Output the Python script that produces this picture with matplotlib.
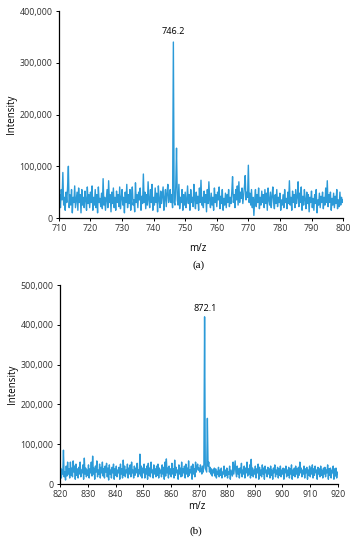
import numpy as np
import matplotlib
matplotlib.use("Agg")
import matplotlib.pyplot as plt
from matplotlib.ticker import FuncFormatter

# spectrum (a): m/z 710-800, step 0.25, intensity in thousands
mz_a_start, mz_a_end = 710, 800
int_a = [
    30, 45, 20, 55, 35, 88, 25, 40, 15, 50, 30, 60, 100, 20, 45, 25, 55, 10, 40, 30,
    62, 20, 35, 50, 15, 58, 30, 45, 10, 55, 25, 40, 20, 52, 35, 15, 60, 28, 45, 20,
    50, 30, 62, 15, 40, 25, 55, 20, 45, 10, 60, 30, 38, 22, 48, 18, 76, 25, 40, 15,
    35, 55, 20, 72, 30, 45, 12, 50, 28, 58, 20, 40, 15, 52, 30, 45, 22, 60, 18, 38,
    55, 25, 40, 10, 50, 30, 65, 20, 45, 28, 55, 15, 40, 60, 25, 35, 12, 68, 30, 45,
    20, 50, 35, 58, 15, 42, 28, 85, 30, 50, 18, 45, 25, 70, 35, 20, 55, 30, 65, 15,
    40, 25, 58, 30, 48, 12, 62, 35, 20, 52, 28, 45, 60, 15, 38, 55, 22, 48, 65, 30,
    40, 55, 30, 45, 20, 340, 30, 25, 60, 135, 35, 25, 65, 18, 40, 30, 55, 15, 45, 25,
    50, 20, 35, 62, 28, 45, 15, 55, 30, 40, 22, 65, 35, 18, 50, 28, 42, 15, 58, 30,
    73, 25, 40, 20, 52, 30, 45, 12, 55, 28, 70, 35, 20, 48, 25, 40, 15, 58, 30, 45,
    22, 50, 35, 60, 18, 42, 28, 55, 15, 38, 25, 48, 20, 45, 30, 55, 22, 40, 28, 50,
    80, 30, 45, 20, 55, 35, 62, 25, 70, 30, 50, 38, 58, 28, 45, 60, 82, 35, 50, 40,
    102, 30, 48, 25, 55, 20, 40, 5, 35, 55, 22, 45, 30, 58, 18, 40, 25, 52, 30, 45,
    20, 55, 28, 48, 15, 58, 35, 25, 50, 20, 42, 60, 30, 18, 45, 28, 55, 22, 40, 30,
    48, 15, 35, 25, 45, 20, 55, 30, 38, 18, 50, 28, 72, 25, 40, 15, 52, 30, 45, 20,
    55, 28, 40, 70, 22, 48, 30, 60, 15, 42, 25, 55, 35, 18, 50, 28, 45, 12, 40, 30,
    52, 20, 38, 15, 45, 28, 55, 10, 35, 25, 48, 20, 42, 30, 50, 18, 40, 25, 58, 30,
    72, 22, 45, 30, 50, 15, 38, 25, 48, 20, 42, 28, 55, 18, 35, 22, 50, 25, 40, 30,
    35,
]

# spectrum (b): m/z 820-920, step 0.25, intensity in thousands
mz_b_start, mz_b_end = 820, 920
int_b = [
    20, 40, 15, 35, 25, 85, 18, 30, 10, 45, 20, 55, 25, 38, 15, 55, 22, 40, 18, 58,
    30, 45, 12, 50, 22, 38, 15, 42, 25, 55, 18, 35, 28, 48, 12, 65, 25, 40, 18, 35,
    22, 48, 15, 38, 28, 55, 20, 70, 25, 40, 12, 45, 30, 58, 18, 35, 25, 50, 15, 42,
    28, 55, 20, 38, 15, 45, 30, 52, 18, 40, 10, 48, 25, 35, 15, 42, 28, 50, 12, 38,
    22, 45, 18, 35, 28, 42, 12, 50, 25, 38, 15, 60, 22, 45, 18, 35, 28, 50, 15, 40,
    25, 48, 18, 55, 28, 35, 15, 45, 22, 40, 28, 52, 18, 35, 25, 75, 20, 45, 15, 40,
    28, 50, 15, 38, 25, 45, 12, 52, 22, 40, 18, 55, 28, 35, 15, 48, 25, 38, 18, 45,
    22, 50, 15, 40, 28, 35, 18, 48, 25, 42, 12, 55, 20, 63, 28, 40, 15, 45, 25, 38,
    18, 52, 25, 38, 15, 60, 22, 42, 28, 35, 12, 48, 25, 40, 18, 55, 20, 38, 28, 45,
    15, 50, 25, 40, 18, 58, 22, 35, 28, 45, 12, 50, 25, 38, 18, 55, 30, 42, 50, 35,
    40, 30, 48, 35, 25, 45, 30, 50, 420, 40, 35, 30, 165, 45, 55, 30, 42, 25, 38, 20,
    35, 28, 40, 20, 38, 15, 32, 25, 42, 18, 35, 22, 40, 15, 30, 25, 45, 18, 35, 22,
    40, 15, 30, 25, 45, 12, 35, 28, 20, 55, 25, 42, 58, 30, 18, 45, 25, 38, 15, 40,
    28, 52, 18, 35, 25, 45, 15, 40, 28, 55, 20, 38, 25, 48, 15, 62, 22, 40, 18, 35,
    25, 45, 15, 38, 28, 50, 12, 42, 22, 35, 18, 48, 25, 40, 12, 45, 28, 35, 18, 42,
    25, 38, 15, 45, 22, 35, 12, 40, 28, 48, 18, 35, 25, 42, 15, 38, 22, 45, 18, 35,
    25, 40, 12, 38, 28, 45, 18, 35, 22, 42, 15, 38, 25, 48, 12, 35, 22, 40, 18, 45,
    25, 38, 15, 42, 22, 55, 28, 40, 18, 35, 25, 45, 15, 38, 28, 42, 12, 35, 22, 45,
    18, 40, 25, 48, 15, 38, 22, 45, 28, 35, 12, 42, 25, 38, 18, 45, 22, 35, 15, 40,
    25, 42, 18, 35, 28, 48, 12, 38, 22, 40, 15, 35, 28, 45, 12, 38, 20, 40, 15, 30,
    25,
]

peak_a = (746.2, "746.2")
peak_b = (872.1, "872.1")

line_col = "#2b9ad8"
tick_font = "Open Sans"


def draw(ax, start, end, vals, ymax, ystep, peak, label_y):
    x = np.linspace(start, end, len(vals))
    y = np.array(vals) * 1000.0
    ax.plot(x, y, color=line_col, lw=1.0)
    ax.set_xlim(start, end)
    ax.set_ylim(0, ymax)
    ax.set_xticks(np.arange(start, end + 1, 10))
    ax.set_yticks(np.arange(0, ymax + 1, ystep))
    ax.yaxis.set_major_formatter(FuncFormatter(lambda v, p: f"{int(v):,}"))
    for s in ["top", "right"]:
        ax.spines[s].set_visible(False)
    for s in ["left", "bottom"]:
        ax.spines[s].set_linewidth(0.9)
    ax.tick_params(labelsize=6.4, length=2.5, width=0.7, pad=2, labelcolor="#333333")
    for t in ax.get_xticklabels() + ax.get_yticklabels():
        t.set_family(tick_font)
    ax.text(peak[0], label_y, peak[1], ha="center", va="bottom", fontsize=6.6, family=tick_font)
    ax.set_ylabel("Intensity", fontsize=7, family=tick_font, labelpad=2)


fig = plt.figure(figsize=(3.57, 5.5), dpi=100)
ax1 = fig.add_axes([0.165, 0.6036, 0.796, 0.3764])
ax2 = fig.add_axes([0.168, 0.12, 0.779, 0.3618])

draw(ax1, mz_a_start, mz_a_end, int_a, 400000, 100000, peak_a, 352000)
draw(ax2, mz_b_start, mz_b_end, int_b, 500000, 100000, peak_b, 430000)

fig.text(0.555, 0.548, "m/z", ha="center", va="center", fontsize=7, family=tick_font)
fig.text(0.555, 0.517, "(a)", ha="center", va="center", fontsize=8, family="Liberation Serif")
fig.text(0.55, 0.079, "m/z", ha="center", va="center", fontsize=7, family=tick_font)
fig.text(0.55, 0.035, "(b)", ha="center", va="center", fontsize=8, family="Liberation Serif")

fig.savefig("out.png", dpi=100)
